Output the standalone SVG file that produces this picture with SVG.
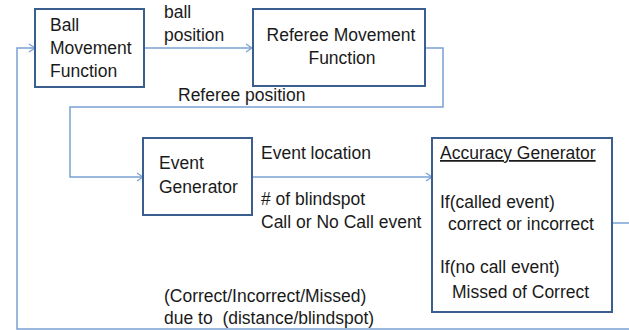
<svg xmlns="http://www.w3.org/2000/svg" width="629" height="330" viewBox="0 0 629 330">
<style>
.box{fill:#fff;stroke:#3a5f8e;stroke-width:2}
.t{font-family:"Liberation Sans",Arial,sans-serif;font-size:17.5px;fill:#1a1a1a}
.c{fill:none;stroke:#7aa0d4;stroke-width:1.5}
</style>
<defs>
<marker id="ah" markerWidth="10" markerHeight="10" refX="8" refY="5" orient="auto" markerUnits="userSpaceOnUse">
<path d="M2,1 L8,5 L2,9" fill="none" stroke="#7aa0d4" stroke-width="1.3"/>
</marker>
</defs>
<rect width="629" height="330" fill="#fff"/>
<g id="connectors">
<path class="c" d="M144,48 H252" marker-end="url(#ah)"/>
<path class="c" d="M425,48 H443 V107 H70 V177 H143" marker-end="url(#ah)"/>
<path class="c" d="M252,177 H432" marker-end="url(#ah)"/>
<path class="c" d="M612,223 H629"/>
<path class="c" d="M629,329 H17 V48 H35" marker-end="url(#ah)"/>
<text class="t" x="164" y="18">ball</text>
<text class="t" x="164" y="41">position</text>
<text class="t" x="178" y="101">Referee position</text>
<text class="t" x="261" y="159">Event location</text>
<text class="t" x="261" y="205"># of blindspot</text>
<text class="t" x="261" y="228">Call or No Call event</text>
<text class="t" x="164" y="302">(Correct/Incorrect/Missed)</text>
<text class="t" x="164" y="324" xml:space="preserve">due to  (distance/blindspot)</text>
</g>
<g id="ball">
<rect class="box" x="35" y="9" width="109" height="78"/>
<text class="t" x="50" y="31">Ball</text>
<text class="t" x="50" y="54">Movement</text>
<text class="t" x="50" y="77">Function</text>
</g>
<g id="referee">
<rect class="box" x="253" y="9" width="172" height="77"/>
<text class="t" x="341" y="41" text-anchor="middle">Referee Movement</text>
<text class="t" x="342" y="64" text-anchor="middle">Function</text>
</g>
<g id="event">
<rect class="box" x="143" y="138" width="109" height="77"/>
<text class="t" x="159" y="169">Event</text>
<text class="t" x="159" y="193">Generator</text>
</g>
<g id="accuracy">
<rect class="box" x="432" y="138" width="180" height="174"/>
<text class="t" x="440" y="159" text-decoration="underline">Accuracy Generator</text>
<text class="t" x="440" y="208">If(called event)</text>
<text class="t" x="448" y="230">correct or incorrect</text>
<text class="t" x="440" y="273">If(no call event)</text>
<text class="t" x="452" y="298">Missed of Correct</text>
</g>
</svg>
